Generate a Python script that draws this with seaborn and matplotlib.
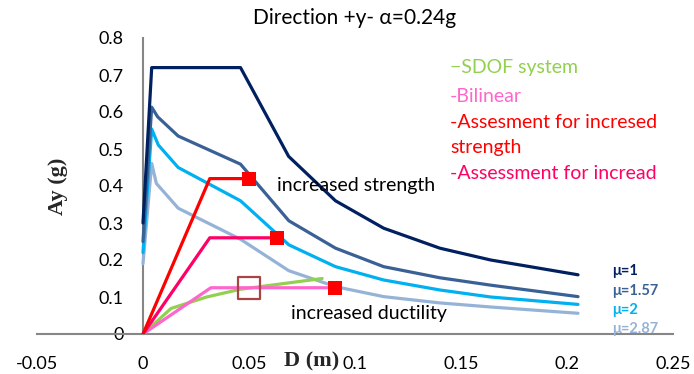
import matplotlib
matplotlib.use("Agg")
import matplotlib.pyplot as plt
import seaborn as sns
import numpy as np

# Inelastic response spectra for several ductility levels (D in m, Ay in g)
d_mu1 = [0.0, 0.0041, 0.046, 0.0687, 0.0908, 0.1135, 0.140, 0.164, 0.2052]
a_mu1 = [0.30, 0.72, 0.72, 0.48, 0.36, 0.286, 0.232, 0.200, 0.160]

d_mu157 = [0.0, 0.0041, 0.0069, 0.0166, 0.046, 0.0688, 0.0908, 0.1135, 0.140, 0.164, 0.2052]
a_mu157 = [0.25, 0.613, 0.587, 0.535, 0.459, 0.306, 0.232, 0.182, 0.152, 0.132, 0.101]

d_mu2 = [0.0, 0.0041, 0.0072, 0.0166, 0.046, 0.0688, 0.0908, 0.1135, 0.140, 0.164, 0.2052]
a_mu2 = [0.22, 0.554, 0.511, 0.450, 0.360, 0.241, 0.182, 0.146, 0.119, 0.100, 0.080]

d_mu287 = [0.0, 0.0041, 0.0063, 0.0166, 0.046, 0.0688, 0.0908, 0.1135, 0.140, 0.164, 0.2052]
a_mu287 = [0.19, 0.461, 0.407, 0.340, 0.256, 0.171, 0.128, 0.101, 0.084, 0.073, 0.056]

# Capacity curve of the SDOF system and its bilinear idealisation
d_sdof = [0.0, 0.0132, 0.030, 0.046, 0.0845]
a_sdof = [0.0, 0.069, 0.100, 0.121, 0.150]

d_bilin = [0.0, 0.032, 0.0908]
a_bilin = [0.0, 0.125, 0.125]

# Retrofit assessments
d_strength = [0.0, 0.0315, 0.050]
a_strength = [0.0, 0.420, 0.420]

d_ductil = [0.0, 0.0315, 0.0634]
a_ductil = [0.0, 0.260, 0.260]

# Performance points
perf_d = [0.050, 0.0634, 0.0908]
perf_a = [0.420, 0.260, 0.125]
demand_d = [0.050]
demand_a = [0.125]

mu_labels = ["μ=1", "μ=1.57", "μ=2", "μ=2.87"]
x_ticks = [-0.05, 0, 0.05, 0.1, 0.15, 0.2, 0.25]
y_ticks = [0, 0.1, 0.2, 0.3, 0.4, 0.5, 0.6, 0.7, 0.8]

sns.set_style("white")
plt.rcParams["font.family"] = ["Lato", "DejaVu Sans"]

fig = plt.figure(figsize=(6.94, 3.74), dpi=100)
ax = fig.add_axes([37 / 694, 40 / 374, 636 / 694, 296 / 374])

C_MU1 = "#002060"
C_MU157 = "#3A6196"
C_MU2 = "#00B0F0"
C_MU287 = "#95B3D7"
C_SDOF = "#92D050"
C_BIL = "#FF66CC"
C_STR = "#FF0000"
C_DUC = "#FF0066"

lw = 2.3
curves = [
    (d_mu287, a_mu287, C_MU287),
    (d_mu2, a_mu2, C_MU2),
    (d_mu157, a_mu157, C_MU157),
    (d_mu1, a_mu1, C_MU1),
    (d_sdof, a_sdof, C_SDOF),
    (d_bilin, a_bilin, C_BIL),
    (d_ductil, a_ductil, C_DUC),
    (d_strength, a_strength, C_STR),
]
for xs, ys, c in curves:
    sns.lineplot(x=xs, y=ys, sort=False, estimator=None, color=c,
                 linewidth=lw, ax=ax, zorder=3)

sns.scatterplot(x=perf_d, y=perf_a, marker="s", s=110, color="#FF0000",
                edgecolor="#FF0000", linewidth=0, ax=ax, zorder=5)
sns.scatterplot(x=demand_d, y=demand_a, marker="s", s=260, facecolor="none",
                edgecolor="#A84444", linewidth=1.6, ax=ax, zorder=5)

ax.set_xlim(-0.05, 0.25)
ax.set_ylim(0, 0.8)
ax.set_xticks(x_ticks)
ax.set_xticklabels(["-0.05", "0", "0.05", "0.1", "0.15", "0.2", "0.25"])
ax.set_yticks(y_ticks)
ax.set_yticklabels(["0", "0.1", "0.2", "0.3", "0.4", "0.5", "0.6", "0.7", "0.8"])

for s in ["top", "right"]:
    ax.spines[s].set_visible(False)
ax.spines["left"].set_position(("data", 0))
for s in ["left", "bottom"]:
    ax.spines[s].set_color("#868686")
    ax.spines[s].set_linewidth(1.5)
    ax.spines[s].set_zorder(2.5)
ax.tick_params(axis="both", direction="out", length=4, width=1.3,
               color="#868686", labelsize=13, labelcolor="#000000")
ax.tick_params(axis="y", pad=10)
ax.tick_params(axis="x", pad=12)
ax.set_xlabel("")
ax.set_ylabel("")

fig.text(355 / 694, 1 - 18 / 374, "Direction +y- α=0.24g", fontsize=15,
         ha="center", va="center", color="#000000")

serif = ["Liberation Serif", "DejaVu Serif"]
fig.text(58 / 694, 1 - 186 / 374, "Ay (g)", rotation=90, ha="center",
         va="center", fontsize=16, fontweight="bold", family=serif)
fig.text(312 / 694, 1 - 361 / 374, "D (m)", ha="center", va="center",
         fontsize=16, fontweight="bold", family=serif)

# Colour-coded captions for the plotted series
lx = 450 / 694
for y, txt, c in [(67, "\u2212SDOF system", C_SDOF), (96, "-Bilinear", C_BIL),
                  (122, "-Assesment for incresed", C_STR), (147, "strength", C_STR),
                  (173, "-Assessment for incread", C_DUC)]:
    fig.text(lx, 1 - y / 374, txt, color=c, fontsize=14, va="center", ha="left")

fig.text(277 / 694, 1 - 185 / 374, "increased strength", fontsize=14,
         va="center", ha="left", color="#000000")
fig.text(291 / 694, 1 - 314 / 374, "increased ductility", fontsize=14,
         va="center", ha="left", color="#000000")

for y, txt, c in zip([271, 291, 310, 329], mu_labels,
                     [C_MU1, C_MU157, C_MU2, C_MU287]):
    t = fig.text(612 / 694, 1 - y / 374, txt, color=c, fontsize=10.5,
                 fontweight="bold", va="center", ha="left")
    t.set_zorder(0)

fig.savefig("out.png", dpi=100)
